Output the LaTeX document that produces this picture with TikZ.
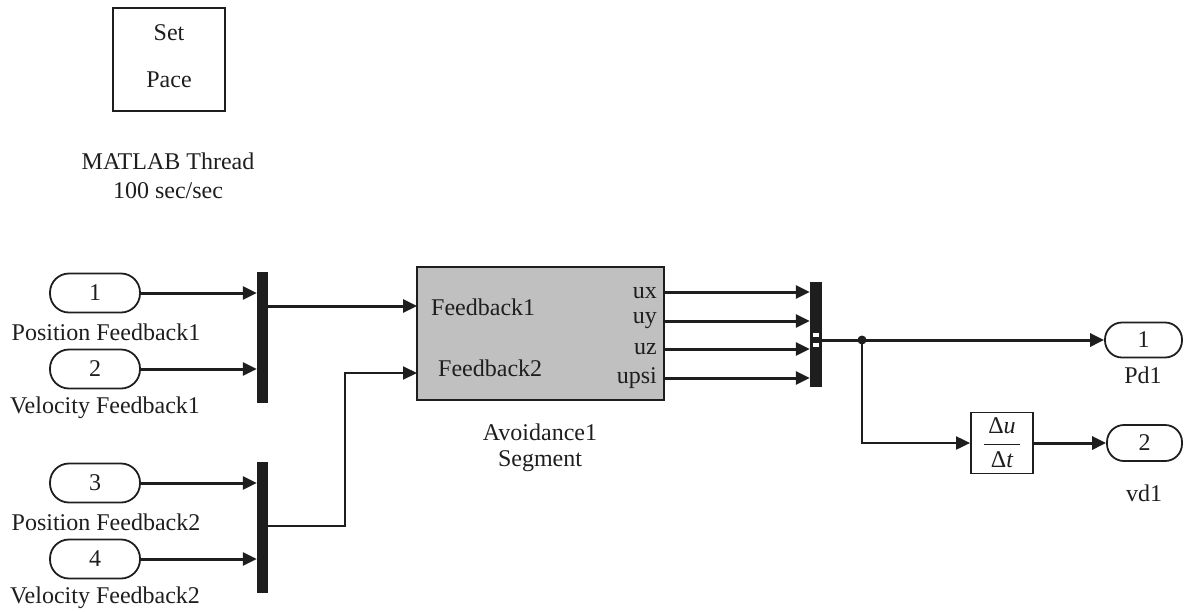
\documentclass[tikz,border=0pt]{standalone}
\usepackage{fontspec}
\setmainfont{Liberation Serif}
\usetikzlibrary{arrows.meta}
\definecolor{subgray}{RGB}{192,192,192}
\definecolor{ink}{RGB}{30,30,30}
\begin{document}
\begin{tikzpicture}[x=1pt,y=-1pt,
  font=\fontsize{24}{28}\selectfont,
  every node/.style={text=ink},
  port/.style={draw=ink, line width=1.8pt, rounded corners=19pt, minimum width=90pt, minimum height=39pt, inner sep=0pt},
  muxbar/.style={fill=ink, draw=none, inner sep=0pt, minimum width=11pt},
  lbl/.style={inner sep=0pt, anchor=center},
  sig/.style={draw=ink, line width=3pt, -{Triangle[length=14pt,width=13pt]}},
  thinsig/.style={draw=ink, line width=2pt, -{Triangle[length=14pt,width=13pt]}},
]
\useasboundingbox (0,0) rectangle (1185,611);

% Set Pace block
\node[draw=ink, line width=1.8pt, minimum width=112pt, minimum height=103pt, inner sep=0pt] (pace) at (169,59.5) {};
\node[lbl] (set) at (169,33) {Set};
\node[lbl] (pacet) at (169,80) {Pace};
\node[lbl] (thread) at (168,161) {MATLAB Thread};
\node[lbl] (rate) at (168,191) {100 sec/sec};

% Inports
\node[port] (in1) at (95,293) {1};
\node[port] (in2) at (95,369) {2};
\node[port] (in3) at (95,483) {3};
\node[port] (in4) at (95,559) {4};
\node[lbl] (l1) at (106,332) {Position Feedback1};
\node[lbl] (l2) at (105,408) {Velocity Feedback1};
\node[lbl] (l3) at (106,522) {Position Feedback2};
\node[lbl] (l4) at (105,598) {Velocity Feedback2};

% Muxes
\node[muxbar, minimum height=131pt] (mux1) at (262.5,337.5) {};
\node[muxbar, minimum height=131pt] (mux2) at (262.5,527.5) {};
\node[muxbar, minimum width=12pt, minimum height=105pt] (mux3) at (816,334.5) {};
\fill[white] (813,333) rectangle (819,337);
\fill[white] (813,343) rectangle (819,347);

% Subsystem
\node[draw=ink, line width=1.8pt, fill=subgray, minimum width=247pt, minimum height=133pt, inner sep=0pt] (sub) at (540.5,333.5) {};
\node[lbl, anchor=west] (f1) at (431,307) {Feedback1};
\node[lbl, anchor=west] (f2) at (438,368) {Feedback2};
\node[lbl, anchor=east] (ux) at (657,293) {ux};
\node[lbl, anchor=east] (uy) at (657,321) {uy};
\node[lbl, anchor=east] (uz) at (657,349) {uz};
\node[lbl, anchor=east] (upsi) at (657,378) {upsi};
\node[lbl] (av) at (540,432) {Avoidance1};
\node[lbl] (seg) at (540,461) {Segment};

\coordinate (sin1) at (417,306);
\coordinate (sin2) at (417,373);
\coordinate (so1) at (664,292);
\coordinate (so2) at (664,321);
\coordinate (so3) at (664,349);
\coordinate (so4) at (664,378);
\coordinate (m2out) at (268,526);
\coordinate (m1out) at (268,306);
\coordinate (bend) at (345,526);

% Derivative and outports
\node[draw=ink, line width=1.8pt, minimum width=62pt, minimum height=61pt, inner sep=0pt] (deriv) at (1002,443) {$\displaystyle\frac{\mbox{\,Δ\itshape u\,}}{\mbox{Δ\itshape t}}$};
\node[port, minimum width=77pt, minimum height=35pt, rounded corners=17pt] (out1) at (1143.5,340) {1};
\node[port, minimum width=75pt, minimum height=36pt, rounded corners=17pt] (out2) at (1144.5,443) {2};
\node[lbl] (pd) at (1143,375) {Pd1};
\node[lbl] (vd) at (1144,493) {vd1};

\coordinate (split) at (862,340);
\coordinate (m3out) at (822,340);

% Connections
\draw[sig] (in1.east) -- (in1.east -| mux1.west);
\draw[sig] (in2.east) -- (in2.east -| mux1.west);
\draw[sig] (in3.east) -- (in3.east -| mux2.west);
\draw[sig] (in4.east) -- (in4.east -| mux2.west);
\draw[sig] (m1out) -- (sin1);
\draw[thinsig] (m2out) -- (bend) |- (sin2);
\draw[sig] (so1) -- (so1 -| mux3.west);
\draw[sig] (so2) -- (so2 -| mux3.west);
\draw[sig] (so3) -- (so3 -| mux3.west);
\draw[sig] (so4) -- (so4 -| mux3.west);
\draw[sig] (m3out) -- (split) -- (split -| out1.west);
\draw[thinsig] (split) |- (deriv.west);
\draw[sig] (deriv.east) -- (out2.west);
\fill[ink] (split) circle (4.5pt);
\end{tikzpicture}
\end{document}
